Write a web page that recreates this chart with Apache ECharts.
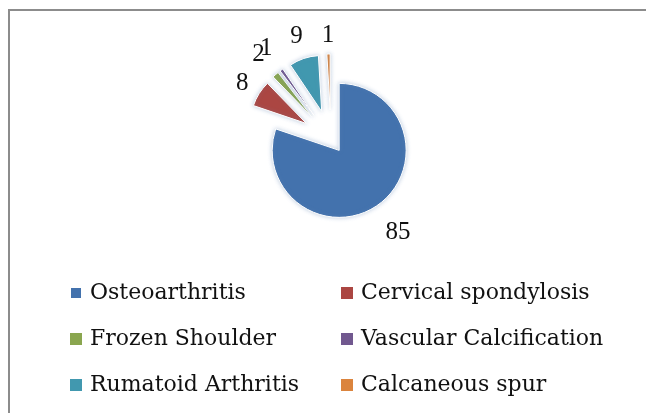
<!DOCTYPE html>
<html>
<head>
<meta charset="utf-8">
<script src="https://cdn.jsdelivr.net/npm/echarts@6/dist/echarts.min.js"></script>
<style>
  html, body { margin: 0; padding: 0; background: #fff; }
  #main { width: 646px; height: 413px; }
</style>
</head>
<body>
<div id="main"></div>
<script>
let categories = ['Osteoarthritis', 'Cervical spondylosis', 'Frozen Shoulder', 'Vascular Calcification', 'Rumatoid Arthritis', 'Calcaneous spur'];
let values = [85, 8, 2, 1, 9, 1];
let colors = ['#4372ad', '#ab4642', '#8aa64f', '#71588f', '#4198af', '#db843d'];

let chartDom = document.getElementById('main');
let myChart = echarts.init(chartDom);

let labelFont = '"Liberation Serif", serif';
let legendFont = '"DejaVu Serif", serif';

// расстояние подписи от края сектора
let labelLens = [34, 20, 26, 26, 23, 19];

// большой сектор рисуется в одной серии, маленькие - в другой (у них меньше радиус)
function makeData(bigOnly) {
    return categories.map((name, i) => {
        let visible = bigOnly ? i === 0 : i !== 0;
        return {
            name: name,
            value: values[i],
            selected: true,
            itemStyle: visible ? { color: colors[i] } : { color: 'rgba(0,0,0,0)', borderWidth: 0, shadowBlur: 0 },
            label: { show: visible },
            labelLine: { show: false, length: labelLens[i], length2: 0 }
        };
    });
}

function legendData(idx) {
    return idx.map(i => ({ name: categories[i], itemStyle: { color: colors[i] } }));
}

let legendText = { fontFamily: legendFont, fontSize: 22, color: '#111', lineHeight: 26, padding: [0, 0, 0, 3] };

let pieCommon = {
    type: 'pie',
    center: [331, 139],
    startAngle: 90,
    selectedMode: 'multiple',
    avoidLabelOverlap: false,
    labelLayout: function () {
        return { hideOverlap: false, align: 'center', verticalAlign: 'middle' };
    },
    itemStyle: {
        borderColor: '#fff',
        borderWidth: 1,
        shadowColor: 'rgba(120,150,190,0.45)',
        shadowBlur: 4
    },
    label: {
        position: 'outside',
        formatter: '{c}',
        distanceToLabelLine: 0,
        fontFamily: labelFont,
        fontSize: 25,
        color: '#111'
    },
    emphasis: { scale: false }
};

let option = {
    backgroundColor: '#fff',
    animation: false,
    // рамка вокруг диаграммы
    graphic: [{
        type: 'rect',
        shape: { x: 9, y: 10, width: 700, height: 500 },
        style: { fill: 'none', stroke: '#8c8c8c', lineWidth: 2 },
        silent: true
    }],
    legend: [
        {
            orient: 'vertical',
            left: 69,
            top: 280,
            padding: 0,
            itemWidth: 12,
            itemHeight: 12,
            itemGap: 20,
            icon: 'rect',
            data: legendData([0, 2, 4]),
            textStyle: legendText
        },
        {
            orient: 'vertical',
            left: 341,
            top: 280,
            padding: 0,
            itemWidth: 12,
            itemHeight: 12,
            itemGap: 20,
            icon: 'rect',
            data: legendData([1, 3, 5]),
            textStyle: legendText
        }
    ],
    series: [
        Object.assign({}, pieCommon, {
            radius: 67,
            selectedOffset: 14,
            data: makeData(true)
        }),
        Object.assign({}, pieCommon, {
            radius: 56,
            selectedOffset: 29,
            data: makeData(false)
        })
    ]
};

option && myChart.setOption(option);
</script>
</body>
</html>
